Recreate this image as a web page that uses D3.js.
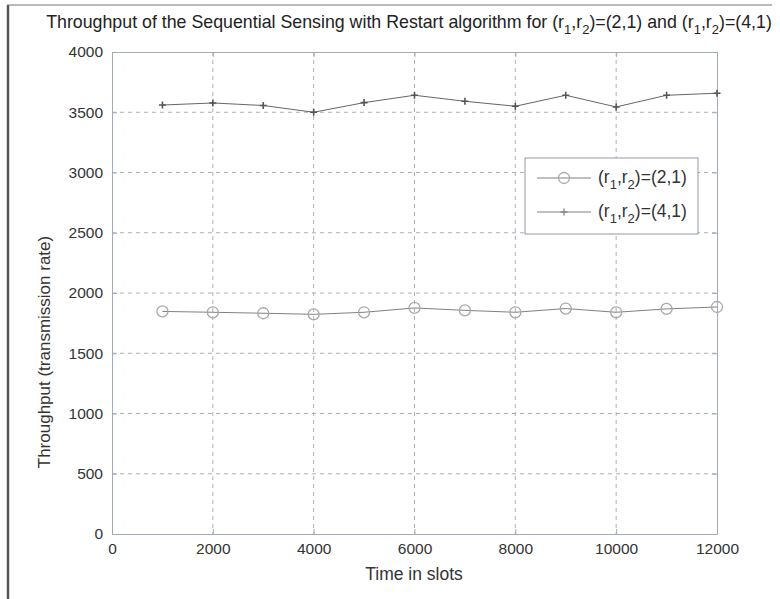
<!DOCTYPE html>
<html>
<head>
<meta charset="utf-8">
<script src="https://cdn.jsdelivr.net/npm/d3@7"></script>
<style>
  body { margin: 0; background: #fff; }
  svg { display: block; font-family: "Liberation Sans", Arial, sans-serif; }
  .axis text { fill: #333; font-size: 15.5px; }
  .axis path, .axis line { stroke: #a3abbb; }
</style>
</head>
<body>
<svg id="chart" width="780" height="599"></svg>
<script>
// data
const slots = [1000, 2000, 3000, 4000, 5000, 6000, 7000, 8000, 9000, 10000, 11000, 12000];
const thr21 = [1847, 1840, 1832, 1823, 1840, 1876, 1856, 1840, 1871, 1840, 1868, 1884];
const thr41 = [3560, 3577, 3556, 3500, 3580, 3641, 3591, 3550, 3641, 3544, 3641, 3658];
const xTicks = [0, 2000, 4000, 6000, 8000, 10000, 12000];
const yTicks = [0, 500, 1000, 1500, 2000, 2500, 3000, 3500, 4000];

let svg = d3.select("#chart");

let pLeft = 112, pRight = 717, pTop = 52, pBottom = 534;

let x = d3.scaleLinear().domain([0, 12000]).range([pLeft, pRight]);
let y = d3.scaleLinear().domain([0, 4000]).range([pBottom, pTop]);

// outer frame (left + top edges of the figure)
svg.append("line").attr("x1", 8).attr("x2", 8).attr("y1", 5).attr("y2", 599)
  .attr("stroke", "#555").attr("stroke-width", 2.5);
svg.append("line").attr("x1", 7).attr("x2", 772).attr("y1", 5).attr("y2", 5)
  .attr("stroke", "#777").attr("stroke-width", 1);

// grid
let grid = svg.append("g").attr("stroke", "#b0b0b0").attr("stroke-dasharray", "4,4");
grid.selectAll("line.gx").data(xTicks.slice(1, -1)).enter().append("line")
  .attr("x1", d => x(d)).attr("x2", d => x(d)).attr("y1", pTop).attr("y2", pBottom);
grid.selectAll("line.gy").data(yTicks.slice(1, -1)).enter().append("line")
  .attr("y1", d => y(d)).attr("y2", d => y(d)).attr("x1", pLeft).attr("x2", pRight);

// axes (MATLAB style inward ticks, box all round)
let xAxis = d3.axisBottom(x).tickValues(xTicks).tickSize(-5).tickPadding(9).tickFormat(d3.format("d"));
let yAxis = d3.axisLeft(y).tickValues(yTicks).tickSize(-5).tickPadding(9).tickFormat(d3.format("d"));

svg.append("g").attr("class", "axis")
  .attr("transform", "translate(0," + pBottom + ")").call(xAxis);
svg.append("g").attr("class", "axis")
  .attr("transform", "translate(" + pLeft + ",0)").call(yAxis);
svg.append("g").attr("class", "axis")
  .attr("transform", "translate(0," + pTop + ")")
  .call(d3.axisTop(x).tickValues(xTicks).tickSize(-5).tickFormat(""));
svg.append("g").attr("class", "axis")
  .attr("transform", "translate(" + pRight + ",0)")
  .call(d3.axisRight(y).tickValues(yTicks).tickSize(-5).tickFormat(""));
svg.selectAll(".axis .domain").attr("stroke", "#a3abbb");

// lines
let line = d3.line().x(d => x(d[0])).y(d => y(d[1]));
let s21 = slots.map((s, i) => [s, thr21[i]]);
let s41 = slots.map((s, i) => [s, thr41[i]]);

svg.append("path").datum(s21).attr("d", line)
  .attr("fill", "none").attr("stroke", "#808080").attr("stroke-width", 1);
svg.append("path").datum(s41).attr("d", line)
  .attr("fill", "none").attr("stroke", "#666").attr("stroke-width", 1);

svg.selectAll("circle.m21").data(s21).enter().append("circle")
  .attr("cx", d => x(d[0])).attr("cy", d => y(d[1])).attr("r", 5.5)
  .attr("fill", "none").attr("stroke", "#a8a8a8").attr("stroke-width", 1.3);

svg.selectAll("path.m41").data(s41).enter().append("path")
  .attr("d", "M-3.5,0H3.5M0,-3.5V3.5")
  .attr("transform", d => "translate(" + x(d[0]) + "," + y(d[1]) + ")")
  .attr("stroke", "#555").attr("stroke-width", 1.6);

// legend
let lg = svg.append("g").attr("transform", "translate(525,158)");
lg.append("rect").attr("width", 173).attr("height", 76)
  .attr("fill", "#fff").attr("stroke", "#8f98a8");
let entries = [
  { label: "(2,1)", y: 20, marker: "circle" },
  { label: "(4,1)", y: 54, marker: "plus" }
];
entries.forEach(e => {
  lg.append("line").attr("x1", 12).attr("x2", 66).attr("y1", e.y).attr("y2", e.y)
    .attr("stroke", "#808080");
  if (e.marker == "circle") {
    lg.append("circle").attr("cx", 39).attr("cy", e.y).attr("r", 5.5)
      .attr("fill", "none").attr("stroke", "#a8a8a8").attr("stroke-width", 1.3);
  } else {
    lg.append("path").attr("d", "M-3.5,0H3.5M0,-3.5V3.5")
      .attr("transform", "translate(39," + e.y + ")")
      .attr("stroke", "#888").attr("stroke-width", 1.4);
  }
  let t = lg.append("text").attr("x", 73).attr("y", e.y + 5)
    .attr("fill", "#333").style("font-size", "17.5px");
  t.append("tspan").text("(r");
  t.append("tspan").attr("dy", 6).style("font-size", "13px").text("1");
  t.append("tspan").attr("dy", -6).text(",r");
  t.append("tspan").attr("dy", 6).style("font-size", "13px").text("2");
  t.append("tspan").attr("dy", -6).text(")=" + e.label);
});

// title
let title = svg.append("text").attr("x", 409).attr("y", 28)
  .attr("text-anchor", "middle").attr("fill", "#222").style("font-size", "17.8px");
title.append("tspan").text("Throughput of the Sequential Sensing with Restart algorithm for (r");
title.append("tspan").attr("dy", 6).style("font-size", "13px").text("1");
title.append("tspan").attr("dy", -6).text(",r");
title.append("tspan").attr("dy", 6).style("font-size", "13px").text("2");
title.append("tspan").attr("dy", -6).text(")=(2,1) and (r");
title.append("tspan").attr("dy", 6).style("font-size", "13px").text("1");
title.append("tspan").attr("dy", -6).text(",r");
title.append("tspan").attr("dy", 6).style("font-size", "13px").text("2");
title.append("tspan").attr("dy", -6).text(")=(4,1)");

// axis labels
svg.append("text").attr("x", 414).attr("y", 580).attr("text-anchor", "middle")
  .attr("fill", "#333").style("font-size", "17.5px").text("Time in slots");
svg.append("text").attr("transform", "translate(50,352) rotate(-90)")
  .attr("text-anchor", "middle").attr("fill", "#333").style("font-size", "17px")
  .text("Throughput (transmission rate)");
</script>
</body>
</html>
